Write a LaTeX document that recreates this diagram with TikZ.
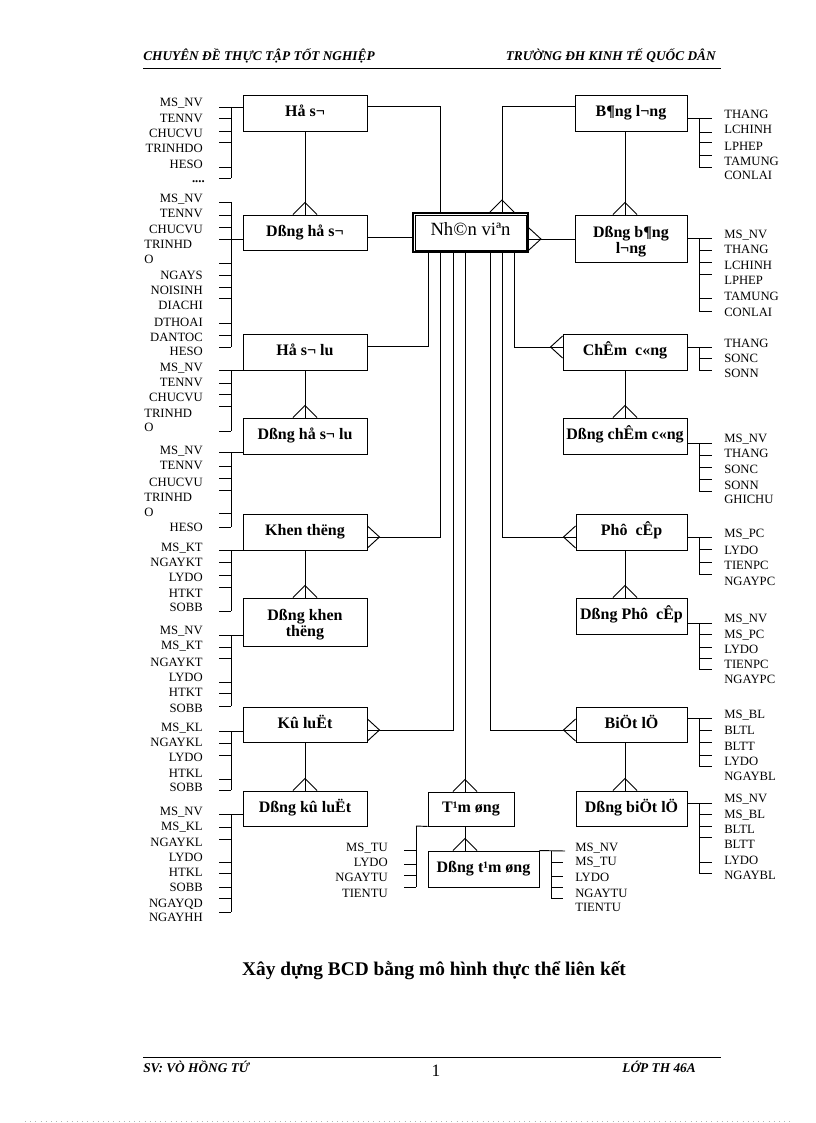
\documentclass[tikz,border=0pt]{standalone}
\usepackage{fontspec}
\setmainfont{Liberation Serif}
\usetikzlibrary{calc}
\tikzset{
  conn/.style={line width=0.7pt},
  ebox/.style={draw, line width=0.7pt, inner sep=0pt, font=\bfseries\fontsize{12}{13}\selectfont, text height=0.75em, text depth=0.2em},
  ebox2/.style={draw, line width=0.7pt, inner sep=0pt, font=\bfseries\fontsize{12}{12}\selectfont, align=center},
  attrE/.style={anchor=east, inner sep=0pt, font=\fontsize{9.5}{10}\selectfont, text height=0.7em, text depth=0pt},
  attrW/.style={attrE, anchor=west},
  hdr/.style={inner sep=0pt, font=\bfseries\itshape\fontsize{10}{10}\selectfont},
}
\newcommand\crowD[1]{\draw[conn] (#1) ++(-12,0) -- ++(12,-12) -- ++(12,12);}
\newcommand\crowE[1]{\draw[conn] (#1) ++(0,-11) -- ++(12,11) -- ++(-12,11);}
\newcommand\crowW[1]{\draw[conn] (#1) ++(0,-11) -- ++(-12,11) -- ++(12,11);}
\newcommand\ebx[6]{\node[ebox, minimum width={#4*0.75pt}, minimum height={#5*0.75pt}] (#1) at (#2,#3) {#6};}
\newcommand\ebxx[6]{\node[ebox2, minimum width={#4*0.75pt}, minimum height={#5*0.75pt}] (#1) at (#2,#3) {#6};}
\newcommand\grpL[6]{%
  \coordinate (#1c) at (219,#3);
  \coordinate (#1top) at (231,#4);
  \coordinate (#1bot) at (231,#5);
  \draw[conn] (#1c) -- (#2.west |- #1c);
  \draw[conn] (#1top) -- (#1bot);
  \foreach \yy in {#6} \draw[conn] (219,\yy) -- (231,\yy);
}
\newcommand\grpR[6]{%
  \coordinate (#1c) at (712,#3);
  \coordinate (#1top) at (699,#4);
  \coordinate (#1bot) at (699,#5);
  \draw[conn] (#2.east |- #1c) -- (#1c);
  \draw[conn] (#1top) -- (#1bot);
  \foreach \yy in {#6} \draw[conn] (699,\yy) -- (712,\yy);
}
\begin{document}
\begin{tikzpicture}[x=0.75pt,y=-0.75pt]
\useasboundingbox (0,0) rectangle (816,1123);
\fill[white] (0,0) rectangle (816,1123);

% header / footer
\node[hdr, anchor=base west] (h1) at (143,61) {CHUYÊN ĐỀ THỰC TẬP TỐT NGHIỆP};
\node[hdr, anchor=base east] (h2) at (716,61) {TRƯỜNG ĐH KINH TẾ QUỐC DÂN};
\coordinate (hl1) at (143,68); \coordinate (hl2) at (721,68);
\draw[line width=0.7pt] (hl1) -- (hl2);
\node[inner sep=0pt, anchor=base, font=\bfseries\fontsize{14.5}{15}\selectfont] (cap) at (434,975) {Xây dựng BCD bằng mô hình thực thể liên kết};
\coordinate (fl1) at (143,1057); \coordinate (fl2) at (721,1057);
\draw[line width=0.7pt] (fl1) -- (fl2);
\node[hdr, anchor=base west] (f1) at (143,1072) {SV: VÒ HỒNG TỨ};
\node[inner sep=0pt, anchor=base, font=\fontsize{13}{13}\selectfont] (f2) at (436,1076) {1};
\node[hdr, anchor=base east] (f3) at (696,1072) {LỚP TH 46A};
\coordinate (d1) at (25,1121.5); \coordinate (d2) at (791,1121.5);
\draw[gray!60, line width=0.5pt, dash pattern=on 0.6pt off 3.3pt] (d1) -- (d2);

% central entity
\node[draw, line width=1.4pt, inner sep=0pt, minimum width={115*0.75pt}, minimum height={39*0.75pt},
      font=\fontsize{14}{14}\selectfont, text height=0.75em, text depth=0.25em] (nv) at (470.5,232.5) {Nh©n viªn};
\draw[line width=0.6pt] ([shift={(3,3)}]nv.north west) rectangle ([shift={(-3,-3)}]nv.south east);

% left entities
\ebx{hoso}{305}{113}{124}{36}{Hå s¬}
\ebx{dhoso}{305}{232.5}{124}{35}{Dßng hå s¬}
\ebx{hsl}{305}{352}{124}{36}{Hå s¬ lu}
\ebx{dhsl}{305}{436}{124}{36}{Dßng hå s¬ lu}
\ebx{kt}{305}{532}{124}{36}{Khen thëng}
\ebxx{dkt}{305}{622}{124}{48}{\rule{0pt}{13pt}Dßng khen\\thëng}
\ebx{kl}{305}{724.5}{124}{35}{Kû luËt}
\ebx{dkl}{305}{808.5}{124}{35}{Dßng kû luËt}
% right entities
\ebx{bl}{631}{113}{112}{36}{B¶ng l¬ng}
\ebxx{dbl}{631}{238.5}{112}{47}{\rule{0pt}{13pt}Dßng b¶ng\\l¬ng}
\ebx{cc}{625}{352}{124}{36}{ChÊm\ \ c«ng}
\ebx{dcc}{625}{436}{124}{36}{Dßng chÊm c«ng}
\ebx{pc}{631.5}{532}{111}{36}{Phô\ \ cÊp}
\ebx{dpc}{631.5}{616}{111}{36}{Dßng Phô\ \ cÊp}
\ebx{btl}{631.5}{724.5}{111}{35}{BiÖt lÖ}
\ebx{dbtl}{631.5}{808.5}{111}{35}{Dßng biÖt lÖ}
% bottom entities
\ebx{tu}{471}{809}{86}{34}{T¹m øng}
\ebx{dtu}{483.5}{869}{111}{36}{Dßng t¹m øng}

% connectors from Nhan vien
\coordinate (t1) at (440,106);
\coordinate (t2) at (502,106);
\draw[conn] (hoso.east |- t1) -- (t1) -- (t1 |- nv.north);
\draw[conn] (bl.west |- t2) -- (t2) -- (t2 |- nv.north);
\crowD{t2 |- nv.north}
\coordinate (l1) at (413,237);
\draw[conn] (dhoso.east |- l1) -- (nv.west |- l1);
\coordinate (r1) at (540,239);
\draw[conn] (nv.east |- r1) -- (dbl.west |- r1);
\crowE{nv.east |- r1}

\coordinate (ba) at (428,346);
\coordinate (bb) at (440,537);
\coordinate (bc) at (453,730);
\coordinate (bd) at (465,780);
\coordinate (be) at (490,730);
\coordinate (bf) at (502,537);
\coordinate (bg) at (514,347);
\draw[conn] (ba |- nv.south) -- (ba) -- (hsl.east |- ba);
\draw[conn] (bb |- nv.south) -- (bb) -- (kt.east |- bb);
\crowE{kt.east |- bb}
\draw[conn] (bc |- nv.south) -- (bc) -- (kl.east |- bc);
\crowE{kl.east |- bc}
\draw[conn] (bd |- nv.south) -- (bd |- tu.north);
\crowD{bd |- tu.north}
\draw[conn] (be |- nv.south) -- (be) -- (btl.west |- be);
\crowW{btl.west |- be}
\draw[conn] (bf |- nv.south) -- (bf) -- (pc.west |- bf);
\crowW{pc.west |- bf}
\draw[conn] (bg |- nv.south) -- (bg) -- (cc.west |- bg);
\crowW{cc.west |- bg}

% master-detail links
\draw[conn] (hoso.south) -- (dhoso.north); \crowD{dhoso.north}
\draw[conn] (hsl.south) -- (dhsl.north); \crowD{dhsl.north}
\draw[conn] (kt.south) -- (dkt.north); \crowD{dkt.north}
\draw[conn] (kl.south) -- (dkl.north); \crowD{dkl.north}
\coordinate (v1) at (625,0);
\draw[conn] (v1 |- bl.south) -- (v1 |- dbl.north); \crowD{v1 |- dbl.north}
\draw[conn] (cc.south) -- (dcc.north); \crowD{dcc.north}
\draw[conn] (v1 |- pc.south) -- (v1 |- dpc.north); \crowD{v1 |- dpc.north}
\draw[conn] (v1 |- btl.south) -- (v1 |- dbtl.north); \crowD{v1 |- dbtl.north}
\draw[conn] (bd |- tu.south) -- (bd |- dtu.north); \crowD{bd |- dtu.north}

% ---- left attribute groups
\grpL{g1}{hoso}{107}{107}{178}{118,131,142,167,178}
\foreach \txt/\yy [count=\i] in {MS\_NV/102,TENNV/118,CHUCVU/133,TRINHDO/148,HESO/164}
  \node[attrE] (g1t\i) at (203,\yy) {\txt};
\node[attrE, font=\bfseries\fontsize{9.5}{10}\selectfont] (g1dots) at (205,178) {....};

\grpL{g2}{dhoso}{239}{202}{347}{202,215,227,263,275,287,298,323,335,347}
\foreach \txt/\yy [count=\i] in {MS\_NV/198,TENNV/213,CHUCVU/229,NGAYS/275,NOISINH/290,DIACHI/305,DTHOAI/322,DANTOC/337,HESO/351}
  \node[attrE] (g2t\i) at (203,\yy) {\txt};
\node[attrW] (g2a) at (144,244) {TRINHD};
\node[attrW] (g2b) at (144,259) {O};

\grpL{g3}{hsl}{370}{370}{431}{383,394,406,431}
\foreach \txt/\yy [count=\i] in {MS\_NV/367,TENNV/382,CHUCVU/397}
  \node[attrE] (g3t\i) at (203,\yy) {\txt};
\node[attrW] (g3a) at (144,413) {TRINHD};
\node[attrW] (g3b) at (144,427) {O};

\grpL{g4}{dhsl}{452}{452}{527}{466,478,490,513,527}
\foreach \txt/\yy [count=\i] in {MS\_NV/450,TENNV/465,CHUCVU/482,HESO/527}
  \node[attrE] (g4t\i) at (203,\yy) {\txt};
\node[attrW] (g4a) at (144,497) {TRINHD};
\node[attrW] (g4b) at (144,512) {O};

\grpL{g5}{kt}{550}{550}{611}{562,575,587,611}
\foreach \txt/\yy [count=\i] in {MS\_KT/547,NGAYKT/562,LYDO/577,HTKT/593,SOBB/607}
  \node[attrE] (g5t\i) at (203,\yy) {\txt};

\grpL{g6}{dkt}{635}{635}{706}{647,658,682,693,706}
\foreach \txt/\yy [count=\i] in {MS\_NV/630,MS\_KT/645,NGAYKT/662,LYDO/677,HTKT/692,SOBB/708}
  \node[attrE] (g6t\i) at (203,\yy) {\txt};

\grpL{g7}{kl}{731}{731}{790}{743,755,779,790}
\foreach \txt/\yy [count=\i] in {MS\_KL/727,NGAYKL/742,LYDO/757,HTKL/773,SOBB/787}
  \node[attrE] (g7t\i) at (203,\yy) {\txt};

\grpL{g8}{dkl}{814}{814}{912}{827,839,862,873,887,898,912}
\foreach \txt/\yy [count=\i] in {MS\_NV/811,MS\_KL/826,NGAYKL/842,LYDO/857,HTKL/872,SOBB/887,NGAYQD/903,NGAYHH/917}
  \node[attrE] (g8t\i) at (203,\yy) {\txt};

% ---- right attribute groups
\grpR{r1}{bl}{118}{118}{167}{132,142,155,167}
\foreach \txt/\yy [count=\i] in {THANG/114,LCHINH/129,LPHEP/146,TAMUNG/161,CONLAI/175}
  \node[attrW] (r1t\i) at (724,\yy) {\txt};

\grpR{r2}{dbl}{238}{238}{311}{250,262,274,298,311}
\foreach \txt/\yy [count=\i] in {MS\_NV/234,THANG/249,LCHINH/265,LPHEP/280,TAMUNG/296,CONLAI/312}
  \node[attrW] (r2t\i) at (724,\yy) {\txt};

\grpR{r3}{cc}{347}{347}{370}{358,370}
\foreach \txt/\yy [count=\i] in {THANG/343,SONC/358,SONN/373}
  \node[attrW] (r3t\i) at (724,\yy) {\txt};

\grpR{r4}{dcc}{443}{443}{491}{455,467,479,491}
\foreach \txt/\yy [count=\i] in {MS\_NV/438,THANG/453,SONC/469,SONN/485,GHICHU/499}
  \node[attrW] (r4t\i) at (724,\yy) {\txt};

\grpR{r5}{pc}{537}{537}{574}{549,562,574}
\foreach \txt/\yy [count=\i] in {MS\_PC/533,LYDO/550,TIENPC/565,NGAYPC/581}
  \node[attrW] (r5t\i) at (724,\yy) {\txt};

\grpR{r6}{dpc}{623}{623}{669}{634,647,658,669}
\foreach \txt/\yy [count=\i] in {MS\_NV/618,MS\_PC/634,LYDO/649,TIENPC/664,NGAYPC/679}
  \node[attrW] (r6t\i) at (724,\yy) {\txt};

\grpR{r7}{btl}{718}{718}{766}{730,742,755,766}
\foreach \txt/\yy [count=\i] in {MS\_BL/714,BLTL/730,BLTT/746,LYDO/761,NGAYBL/776}
  \node[attrW] (r7t\i) at (724,\yy) {\txt};

\grpR{r8}{dbtl}{803}{803}{873}{814,826,837,862,873}
\foreach \txt/\yy [count=\i] in {MS\_NV/798,MS\_BL/814,BLTL/829,BLTT/844,LYDO/860,NGAYBL/875}
  \node[attrW] (r8t\i) at (724,\yy) {\txt};

% ---- Tam ung groups
\coordinate (tua) at (416,826); \coordinate (tub) at (416,887);
\draw[conn] (tua) -- (tu.south west);
\draw[conn] (tua) -- (tub);
\foreach \yy in {850,864,875,887} \draw[conn] (404,\yy) -- (416,\yy);
\foreach \txt/\yy [count=\i] in {MS\_TU/847,LYDO/862,NGAYTU/877,TIENTU/893}
  \node[attrE] (tut\i) at (388,\yy) {\txt};

\coordinate (dtua) at (565,851); \coordinate (dtub) at (551,851); \coordinate (dtuc) at (551,898);
\draw[conn] (dtu.north east) -- (dtua);
\draw[conn] (dtub) -- (dtuc);
\foreach \yy in {862,876,887,898} \draw[conn] (551,\yy) -- (563,\yy);
\foreach \txt/\yy [count=\i] in {MS\_NV/847,MS\_TU/861,LYDO/877,NGAYTU/893,TIENTU/907}
  \node[attrW] (dtut\i) at (575,\yy) {\txt};
\end{tikzpicture}
\end{document}
